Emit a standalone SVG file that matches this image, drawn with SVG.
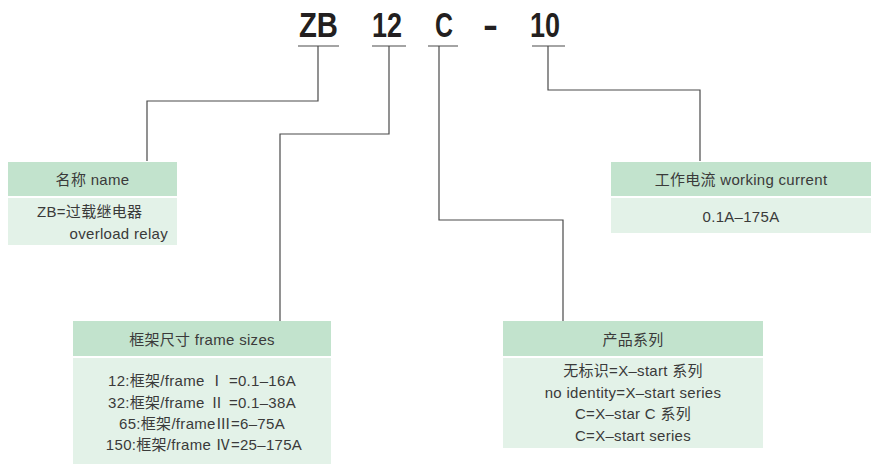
<svg xmlns="http://www.w3.org/2000/svg" width="876" height="464" viewBox="0 0 876 464">
<style>
.code{font-family:"Liberation Sans Narrow","Liberation Sans",Arial,sans-serif;font-weight:bold;font-size:35px;fill:#231f20}
.t{font-family:"Liberation Sans","Noto Sans CJK SC",sans-serif;font-size:15px;fill:#3a3a3a;letter-spacing:0.3px}
.c{text-anchor:middle}
.hd{fill:#c2e3cd}
.bd{fill:#e3f2e8}
.ln{fill:none;stroke:#4a4a4a;stroke-width:1.2}
</style>
<rect width="876" height="464" fill="#ffffff"/>
<g id="code">
<text class="code" x="299" y="37" textLength="39" lengthAdjust="spacingAndGlyphs">ZB</text>
<text class="code" x="372" y="37" textLength="30" lengthAdjust="spacingAndGlyphs">12</text>
<text class="code" x="435" y="37" textLength="18" lengthAdjust="spacingAndGlyphs">C</text>
<text class="code" x="483" y="37" textLength="15" lengthAdjust="spacingAndGlyphs">-</text>
<text class="code" x="530" y="37" textLength="30" lengthAdjust="spacingAndGlyphs">10</text>
</g>
<g id="connectors">
<path class="ln" d="M298 46H339M318 46V101H147V161"/>
<path class="ln" d="M372 46H406M389 46V134H280V321"/>
<path class="ln" d="M428 46H458M439 46V220H563V321"/>
<path class="ln" d="M532 46H565M548 46V90H700V161"/>
</g>
<g id="name">
<rect class="hd" x="8" y="162" width="169" height="34"/>
<rect class="bd" x="8" y="198" width="169" height="47"/>
<text class="t c" x="92.5" y="184.5">名称 name</text>
<text class="t" x="37" y="217">ZB=过载继电器</text>
<text class="t" x="168" y="239" text-anchor="end">overload relay</text>
</g>
<g id="current">
<rect class="hd" x="611" y="162" width="260" height="34"/>
<rect class="bd" x="611" y="198" width="260" height="35"/>
<text class="t c" x="741" y="184.5">工作电流 working current</text>
<text class="t c" x="741" y="221.5">0.1A–175A</text>
</g>
<g id="frame">
<rect class="hd" x="73" y="321" width="258" height="35"/>
<rect class="bd" x="73" y="358" width="258" height="106"/>
<text class="t c" x="202" y="344.5">框架尺寸 frame sizes</text>
<text class="t c" x="202" y="386">12:框架/frame Ⅰ =0.1–16A</text>
<text class="t c" x="202" y="407.5">32:框架/frame Ⅱ =0.1–38A</text>
<text class="t c" x="202" y="428.5">65:框架/frameⅢ=6–75A</text>
<text class="t c" x="204" y="450">150:框架/frame Ⅳ=25–175A</text>
</g>
<g id="series">
<rect class="hd" x="503" y="321" width="260" height="35"/>
<rect class="bd" x="503" y="358" width="260" height="90"/>
<text class="t c" x="633" y="344.5">产品系列</text>
<text class="t c" x="633" y="376">无标识=X–start 系列</text>
<text class="t c" x="633" y="397.5">no identity=X–start series</text>
<text class="t c" x="633" y="419">C=X–star C 系列</text>
<text class="t c" x="633" y="440.5">C=X–start series</text>
</g>
</svg>
